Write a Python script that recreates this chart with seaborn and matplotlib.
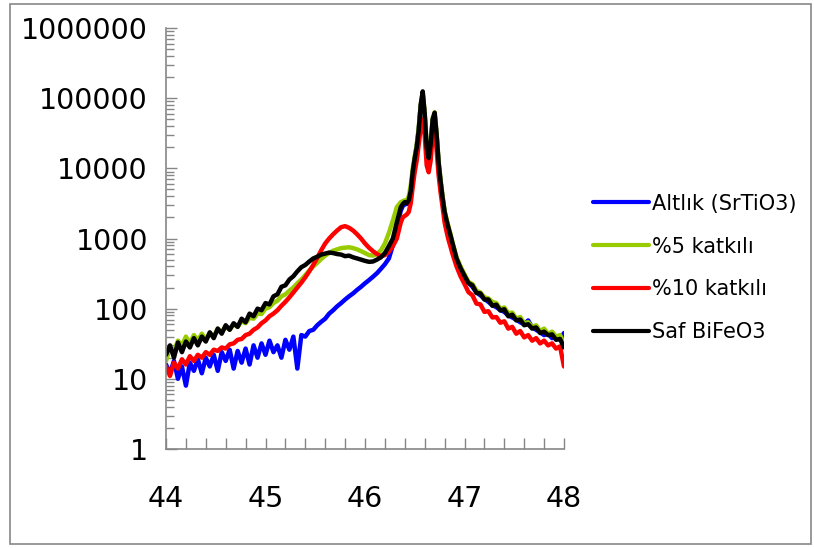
import numpy as np
import pandas as pd
import matplotlib
matplotlib.use("Agg")
import matplotlib.pyplot as plt
import matplotlib.ticker as mticker
from matplotlib.patches import Rectangle
import seaborn as sns

# 2-theta scan positions (coarser away from the peak, finer across it)
two_theta = np.round(np.concatenate([
    np.arange(44.00, 46.37, 0.04),
    np.arange(46.38, 46.89, 0.02),
    np.arange(46.92, 48.01, 0.04),
]), 2)

# intensities
altlik = [
    16, 12, 18, 10, 15, 8, 17, 13, 19, 12,
    20, 15, 22, 13, 24, 18, 26, 14, 25, 17,
    27, 16, 30, 20, 32, 22, 35, 24, 30, 20,
    36, 26, 40, 14, 42, 40, 48, 50, 58, 65,
    72, 85, 95, 108, 120, 135, 150, 165, 185, 205,
    230, 255, 285, 320, 370, 430, 520, 800, 1500, 2500,
    2900, 3100, 3100, 3400, 4600, 8800, 13500, 21000, 36000, 78000,
    110000, 58000, 19000, 13500, 21000, 48000, 58000, 29000, 11500, 6200,
    3700, 2350, 1750, 1350, 1080, 830,
    510, 370, 285, 235, 205, 170, 155, 138, 125, 112,
    105, 96, 90, 80, 75, 70, 64, 60, 68, 54,
    50, 46, 42, 44, 38, 40, 36, 45,
]
katkili_5 = [
    18, 28, 25, 35, 30, 40, 32, 42, 35, 44,
    36, 45, 40, 52, 46, 56, 50, 60, 55, 66,
    62, 74, 72, 85, 84, 100, 105, 120, 130, 150,
    160, 180, 200, 230, 260, 300, 350, 400, 450, 510,
    570, 620, 670, 700, 730, 740, 750, 730, 700, 660,
    620, 580, 570, 600, 680, 850, 1200, 1800, 2800, 3300,
    3400, 3500, 3500, 4000, 5800, 10000, 15000, 22000, 38000, 82000,
    120000, 62000, 21000, 15000, 24000, 52000, 63000, 31000, 12500, 6800,
    4000, 2500, 1900, 1450, 1150, 880,
    540, 400, 310, 240, 225, 180, 170, 145, 140, 125,
    120, 100, 104, 86, 88, 72, 76, 62, 64, 55,
    58, 48, 52, 44, 47, 40, 42, 32,
]
katkili_10 = [
    15, 11, 17, 14, 19, 16, 21, 18, 22, 20,
    24, 22, 26, 25, 28, 27, 31, 32, 36, 37,
    42, 44, 50, 54, 62, 68, 78, 85, 95, 110,
    125, 145, 170, 200, 235, 280, 340, 420, 530, 680,
    850, 1000, 1150, 1300, 1450, 1500, 1420, 1300, 1150, 1000,
    850, 740, 660, 600, 560, 580, 650, 780, 1000, 1700,
    2000, 2100, 2200, 2400, 3200, 5500, 9000, 13000, 22000, 38000,
    50000, 30000, 11000, 8800, 13000, 30000, 38000, 18000, 8000, 4500,
    2800, 1700, 1250, 950, 760, 600,
    400, 290, 225, 172, 155, 118, 115, 90, 92, 75,
    76, 63, 66, 52, 55, 44, 48, 39, 42, 35,
    38, 32, 35, 30, 32, 27, 29, 15,
]
saf_bifeo3 = [
    22, 30, 20, 33, 24, 34, 28, 38, 30, 40,
    34, 46, 38, 52, 44, 58, 50, 62, 55, 72,
    64, 85, 78, 100, 95, 120, 115, 150, 160, 205,
    215, 260, 290, 340, 390, 420, 470, 520, 550, 590,
    610, 630, 620, 600, 590, 560, 570, 540, 520, 500,
    480, 465, 470, 500, 540, 620, 780, 1000, 1700, 2800,
    3100, 3300, 3200, 3500, 4800, 9000, 14000, 20000, 35000, 80000,
    125000, 60000, 20000, 14000, 22000, 50000, 62000, 30000, 12000, 6500,
    3800, 2400, 1800, 1400, 1100, 850,
    520, 380, 295, 232, 215, 168, 165, 135, 135, 110,
    114, 94, 98, 78, 82, 68, 70, 58, 60, 52,
    54, 45, 47, 42, 43, 36, 37, 28,
]

series_names = ["Altlık (SrTiO3)", "%5 katkılı", "%10 katkılı", "Saf BiFeO3"]
series_colors = ["#0000FF", "#99CC00", "#FF0000", "#000000"]

sns.set_style("white")
plt.rcParams['font.family'] = ['DejaVu Sans']
plt.rcParams['text.color'] = 'black'

fig = plt.figure(figsize=(8.14, 5.48), dpi=100)
ax = fig.add_axes([166 / 814, 1 - 449 / 548, (564 - 166) / 814, (449 - 28) / 548])

for name, vals, col in zip(series_names, [altlik, katkili_5, katkili_10, saf_bifeo3], series_colors):
    sns.lineplot(x=two_theta, y=vals, color=col, lw=3.2, label=name, ax=ax)

ax.set_yscale('log')
ax.set_xlim(44, 48)
ax.set_ylim(1, 1e6)

ax.yaxis.set_major_locator(mticker.LogLocator(base=10, numticks=10))
ax.yaxis.set_minor_locator(mticker.LogLocator(base=10, subs=np.arange(2, 10), numticks=20))
ax.yaxis.set_major_formatter(mticker.FuncFormatter(lambda v, p: f"{v:.0f}"))
ax.yaxis.set_minor_formatter(mticker.NullFormatter())
ax.xaxis.set_major_locator(mticker.MultipleLocator(1))
ax.xaxis.set_minor_locator(mticker.MultipleLocator(0.2))

ax.tick_params(axis='y', which='both', left=True, direction='in', color='#868686', width=1,
               labelsize=20.5, labelcolor='black', pad=13)
ax.tick_params(axis='y', which='major', length=8)
ax.tick_params(axis='y', which='minor', length=6)
ax.tick_params(axis='x', which='both', bottom=True, direction='in', color='#868686', width=1, length=8,
               labelsize=20.5, labelcolor='black', pad=26)

for side in ['top', 'right']:
    ax.spines[side].set_visible(False)
for side in ['left', 'bottom']:
    ax.spines[side].set_color('#868686')
    ax.spines[side].set_linewidth(1.2)

leg = ax.legend(loc='center left', bbox_to_anchor=(593 / 814, 1 - 268 / 548), bbox_transform=fig.transFigure,
                frameon=False, fontsize=15, handlelength=2.7, handletextpad=0.15, labelspacing=1.1,
                borderpad=0, borderaxespad=0)
for line in leg.get_lines():
    line.set_linewidth(3)
for t in leg.get_texts():
    t.set_color('black')

# grey frame around the chart area
fig.patches.append(Rectangle((9.5 / 814, 4 / 548), (811 - 9.5) / 814, (546 - 6) / 548,
                             transform=fig.transFigure, fill=False, edgecolor='#888888', lw=1.2))

fig.savefig('out.png', dpi=100)
